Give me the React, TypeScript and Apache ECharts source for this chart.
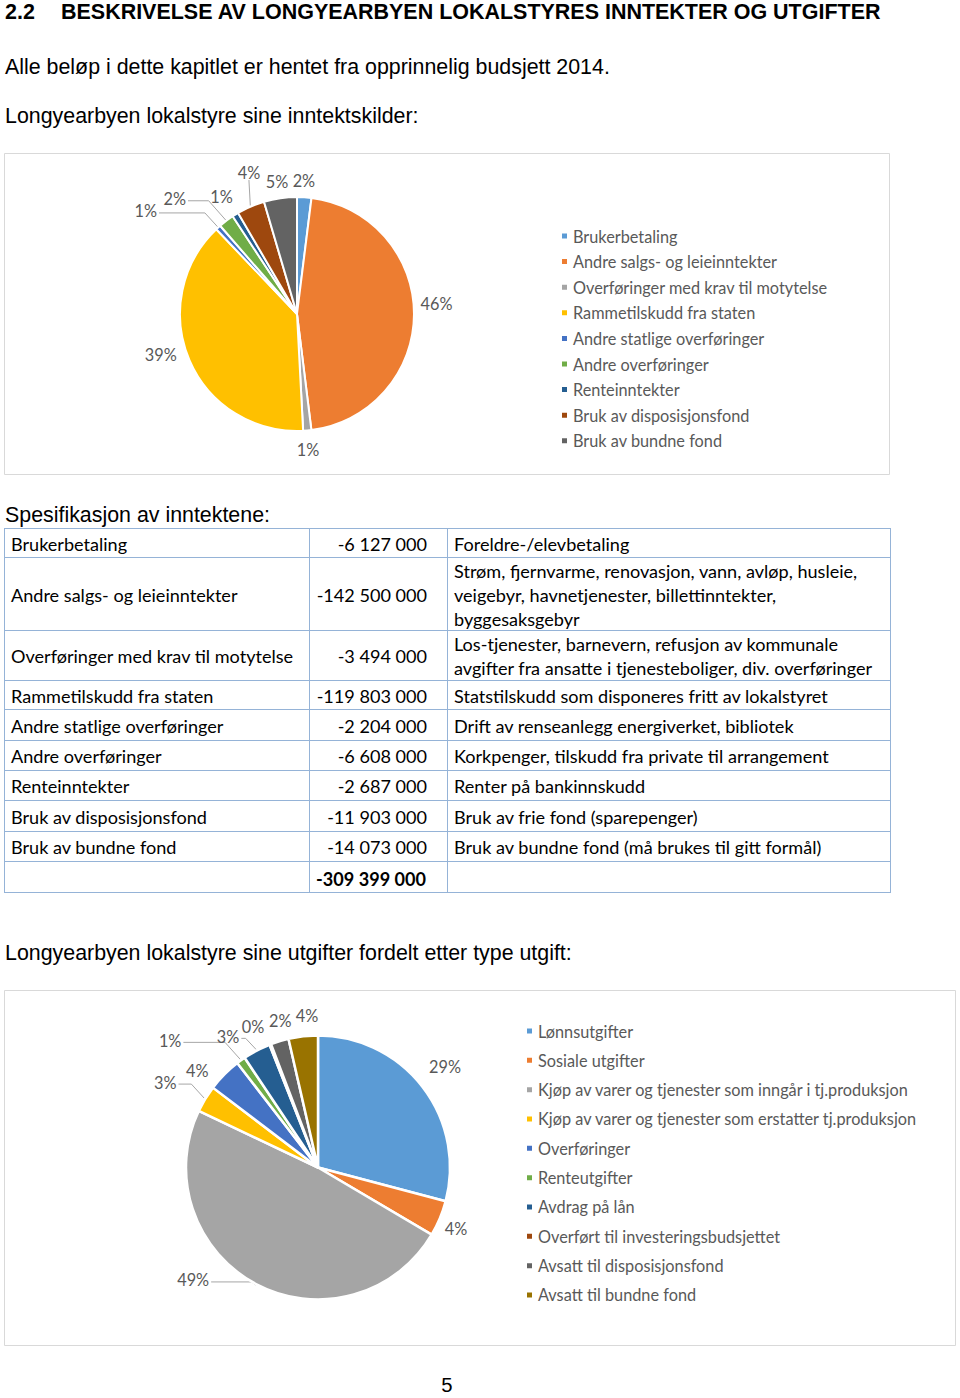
import { useEffect, useRef } from "react";
import * as echarts from "echarts";

// ---------- data ----------
const incomeCategories = [
  "Brukerbetaling",
  "Andre salgs- og leieinntekter",
  "Overføringer med krav til motytelse",
  "Rammetilskudd fra staten",
  "Andre statlige overføringer",
  "Andre overføringer",
  "Renteinntekter",
  "Bruk av disposisjonsfond",
  "Bruk av bundne fond",
];
const incomeValues = [-6127000, -142500000, -3494000, -119803000, -2204000, -6608000, -2687000, -11903000, -14073000];
const incomeDescriptions = [
  "Foreldre-/elevbetaling",
  "Strøm, fjernvarme, renovasjon, vann, avløp, husleie,\nveigebyr, havnetjenester, billettinntekter,\nbyggesaksgebyr",
  "Los-tjenester, barnevern, refusjon av kommunale\navgifter fra ansatte i tjenesteboliger, div. overføringer",
  "Statstilskudd som disponeres fritt av lokalstyret",
  "Drift av renseanlegg energiverket, bibliotek",
  "Korkpenger, tilskudd fra private til arrangement",
  "Renter på bankinnskudd",
  "Bruk av frie fond (sparepenger)",
  "Bruk av bundne fond (må brukes til gitt formål)",
];

const expenseCategories = [
  "Lønnsutgifter",
  "Sosiale utgifter",
  "Kjøp av varer og tjenester som inngår i tj.produksjon",
  "Kjøp av varer og tjenester som erstatter tj.produksjon",
  "Overføringer",
  "Renteutgifter",
  "Avdrag på lån",
  "Overført til investeringsbudsjettet",
  "Avsatt til disposisjonsfond",
  "Avsatt til bundne fond",
];
// estimated shares (percent of total expenses)
const expenseShares = [29.2, 4.4, 48.7, 3.3, 4.2, 1.1, 3.4, 0.2, 2.2, 3.6];

const palette = ["#5B9BD5", "#ED7D31", "#A5A5A5", "#FFC000", "#4472C4", "#70AD47", "#255E91", "#9E480E", "#636363", "#997300"];

// ---------- style / layout ----------
const ARIAL = '"Liberation Sans", Arial, sans-serif';
const CAL = 'Lato, "Open Sans", sans-serif';
const GREY_TEXT = "#595959";
const TABLE_BORDER = "#95B3D7";

const incomePie = { cx: 297, cy: 314, r: 117 };
const expensePie = { cx: 318, cy: 1167.5, r: 132 };
// [angle shift (deg), gap beyond radius (px)] for each label
const incomeLabelNudge = [[-0.6, 17], [-4.5, 23], [0.4, 19], [6.9, 25], [-13.4, 66], [-9.5, 51], [-0.8, 23], [4.5, 32], [-0.4, 17]];
const incomeLined = [4, 5, 7];
const expenseLabelNudge = [[-0.8, 30], [1.3, 19], [20, 36], [-2.1, 43], [-5.9, 23], [-13.6, 63], [-6.8, 27], [-3.6, 23], [2.5, 20], [2.3, 20]];
const expenseLined = [2, 3, 5, 6];

const tableRows = [528, 557, 630, 680, 709, 740, 770, 800, 831, 861, 892];
const tableCols = [4, 309, 447, 890];

function fmt(v: number): string {
  const s = Math.abs(Math.round(v)).toString().replace(/\B(?=(\d{3})+(?!\d))/g, " ");
  return (v < 0 ? "-" : "") + s;
}

function fitSize(text: string, family: string, weight: string, target: number, fallback: number): number {
  try {
    const ctx = document.createElement("canvas").getContext("2d");
    if (!ctx) return fallback;
    ctx.font = `${weight} 100px ${family}`;
    const w = ctx.measureText(text).width;
    if (!w) return fallback;
    return (100 * target) / w;
  } catch (e) {
    return fallback;
  }
}

function makeLabelLayout(values: number[], geo: { cx: number; cy: number; r: number }, nudges: number[][], lined: number[]) {
  const total = values.reduce((a, b) => a + b, 0);
  const mids: number[] = [];
  let acc = 0;
  values.forEach((v) => {
    mids.push(((acc + v / 2) / total) * 360);
    acc += v;
  });
  return (params: any) => {
    const i = params.dataIndex;
    const [dA, gap] = nudges[i];
    const a = ((mids[i] + dA) * Math.PI) / 180;
    const lx = geo.cx + Math.sin(a) * (geo.r + gap);
    const ly = geo.cy - Math.cos(a) * (geo.r + gap);
    const res: any = { x: lx, y: ly, align: "center", verticalAlign: "middle" };
    if (lined.indexOf(i) >= 0) {
      const m = (mids[i] * Math.PI) / 180;
      const ex = geo.cx + Math.sin(m) * (geo.r + 1);
      const ey = geo.cy - Math.cos(m) * (geo.r + 1);
      const w = params.labelRect ? params.labelRect.width : 20;
      const h = params.labelRect ? params.labelRect.height : 16;
      if (Math.abs(lx - ex) < w * 0.8) {
        res.labelLinePoints = [[lx, ly + h / 2 - 1], [lx, ly + h / 2], [ex, ey]];
      } else {
        const dir = ex > lx ? 1 : -1;
        const sx = lx + dir * (w / 2 + 2);
        const jx = ex - dir * Math.abs(ey - ly) * 0.8;
        res.labelLinePoints = [[sx, ly + 2], [jx, ly + 2], [ex, ey]];
      }
    }
    return res;
  };
}

export default function App() {
  const ref = useRef<HTMLDivElement>(null);

  useEffect(() => {
    if (!ref.current) return;
    const chart = echarts.init(ref.current, undefined, { renderer: "svg", width: 960, height: 1398 });

    const headSize = fitSize("BESKRIVELSE AV LONGYEARBYEN LOKALSTYRES INNTEKTER OG UTGIFTER", ARIAL, "bold", 821, 21);
    const bodySize = fitSize("Alle beløp i dette kapitlet er hentet fra opprinnelig budsjett 2014.", ARIAL, "normal", 605, 21);
    const tableSize = fitSize("Overføringer med krav til motytelse", CAL, "normal", 283, 18);
    const legendSize = fitSize("Overføringer med krav til motytelse", CAL, "normal", 255, 16);

    const incomeAbs = incomeValues.map((v) => Math.abs(v));
    const incomeTotal = incomeAbs.reduce((a, b) => a + b, 0);
    const expenseTotal = expenseShares.reduce((a, b) => a + b, 0);
    const totalSigned = incomeValues.reduce((a, b) => a + b, 0);

    const graphics: any[] = [];
    const txt = (text: string, x: number, y: number, size: number, family: string, extra: any = {}) => {
      graphics.push({
        type: "text",
        x,
        y,
        z: 10,
        style: {
          text,
          fontSize: size,
          fontFamily: family,
          fontWeight: extra.weight || "normal",
          fill: extra.fill || "#000",
          align: extra.align || "left",
          verticalAlign: "middle",
          lineHeight: extra.lineHeight || Math.round(size * 1.2),
        },
      });
    };

    // headings
    txt("2.2", 5, 12, headSize, ARIAL, { weight: "bold" });
    txt("BESKRIVELSE AV LONGYEARBYEN LOKALSTYRES INNTEKTER OG UTGIFTER", 61, 12, headSize, ARIAL, { weight: "bold" });
    txt("Alle beløp i dette kapitlet er hentet fra opprinnelig budsjett 2014.", 5, 67, bodySize, ARIAL);
    txt("Longyearbyen lokalstyre sine inntektskilder:", 5, 116, bodySize, ARIAL);
    txt("Spesifikasjon av inntektene:", 5, 515, bodySize, ARIAL);
    txt("Longyearbyen lokalstyre sine utgifter fordelt etter type utgift:", 5, 953, bodySize, ARIAL);
    txt("5", 447, 1385, bodySize * 0.95, ARIAL, { align: "center", lineHeight: 20 });

    // chart frames
    graphics.push({ type: "rect", z: -1, shape: { x: 4.5, y: 153.5, width: 885, height: 321 }, style: { fill: "none", stroke: "#D9D9D9", lineWidth: 1 } });
    graphics.push({ type: "rect", z: -1, shape: { x: 4.5, y: 990.5, width: 951, height: 355 }, style: { fill: "none", stroke: "#D9D9D9", lineWidth: 1 } });

    // table grid
    tableRows.forEach((y) => {
      graphics.push({ type: "line", z: 5, shape: { x1: tableCols[0], y1: y + 0.5, x2: tableCols[3] + 1, y2: y + 0.5 }, style: { stroke: TABLE_BORDER, lineWidth: 1 } });
    });
    tableCols.forEach((x) => {
      graphics.push({ type: "line", z: 5, shape: { x1: x + 0.5, y1: tableRows[0], x2: x + 0.5, y2: tableRows[tableRows.length - 1] + 1 }, style: { stroke: TABLE_BORDER, lineWidth: 1 } });
    });
    // table text
    incomeCategories.forEach((name, i) => {
      const yc = (tableRows[i] + tableRows[i + 1]) / 2 + 1;
      txt(name, 11, yc, tableSize, CAL);
      txt(fmt(incomeValues[i]), 427, yc, tableSize, CAL, { align: "right" });
      txt(incomeDescriptions[i], 454, yc, tableSize, CAL, { lineHeight: 24 });
    });
    {
      const n = incomeCategories.length;
      const yc = (tableRows[n] + tableRows[n + 1]) / 2 + 2;
      txt(fmt(totalSigned), 426, yc, tableSize, CAL, { align: "right", weight: "bold" });
    }

    const labelStyle = { color: GREY_TEXT, fontFamily: CAL, fontSize: legendSize };

    const option: any = {
      animation: false,
      color: palette,
      graphic: graphics,
      legend: [
        {
          data: incomeCategories,
          orient: "vertical",
          left: 560,
          top: 227,
          padding: 0,
          itemWidth: 7,
          itemHeight: 7,
          itemGap: 7.6,
          icon: "rect",
          selectedMode: false,
          textStyle: { color: GREY_TEXT, fontFamily: CAL, fontSize: legendSize, lineHeight: 18 },
        },
        {
          data: expenseCategories,
          orient: "vertical",
          left: 525,
          top: 1022,
          padding: 0,
          itemWidth: 7,
          itemHeight: 7,
          itemGap: 11.33,
          icon: "rect",
          selectedMode: false,
          textStyle: { color: GREY_TEXT, fontFamily: CAL, fontSize: legendSize, lineHeight: 18 },
        },
      ],
      series: [
        {
          type: "pie",
          name: "Inntekter",
          center: [incomePie.cx, incomePie.cy],
          radius: incomePie.r,
          startAngle: 90,
          clockwise: true,
          avoidLabelOverlap: false,
          itemStyle: { borderColor: "#fff", borderWidth: 2 },
          label: {
            show: true,
            position: "outside",
            ...labelStyle,
            formatter: (p: any) => Math.round((p.value / incomeTotal) * 100) + "%",
          },
          labelLine: { show: true, lineStyle: { color: "#A6A6A6", width: 1 } },
          labelLayout: makeLabelLayout(incomeAbs, incomePie, incomeLabelNudge, incomeLined),
          emphasis: { disabled: true },
          data: incomeCategories.map((name, i) => ({
            name,
            value: incomeAbs[i],
            itemStyle: { color: palette[i] },
            labelLine: { show: incomeLined.indexOf(i) >= 0 },
          })),
        },
        {
          type: "pie",
          name: "Utgifter",
          center: [expensePie.cx, expensePie.cy],
          radius: expensePie.r,
          startAngle: 90,
          clockwise: true,
          avoidLabelOverlap: false,
          itemStyle: { borderColor: "#fff", borderWidth: 2.5 },
          label: {
            show: true,
            position: "outside",
            ...labelStyle,
            formatter: (p: any) => Math.round((p.value / expenseTotal) * 100) + "%",
          },
          labelLine: { show: true, lineStyle: { color: "#A6A6A6", width: 1 } },
          labelLayout: makeLabelLayout(expenseShares, expensePie, expenseLabelNudge, expenseLined),
          emphasis: { disabled: true },
          data: expenseCategories.map((name, i) => ({
            name,
            value: expenseShares[i],
            itemStyle: { color: palette[i] },
            labelLine: { show: expenseLined.indexOf(i) >= 0 },
          })),
        },
      ],
    };

    chart.setOption(option);
    return () => chart.dispose();
  }, []);

  return <div ref={ref} style={{ position: "absolute", left: 0, top: 0, width: 960, height: 1398, background: "#fff" }} />;
}
